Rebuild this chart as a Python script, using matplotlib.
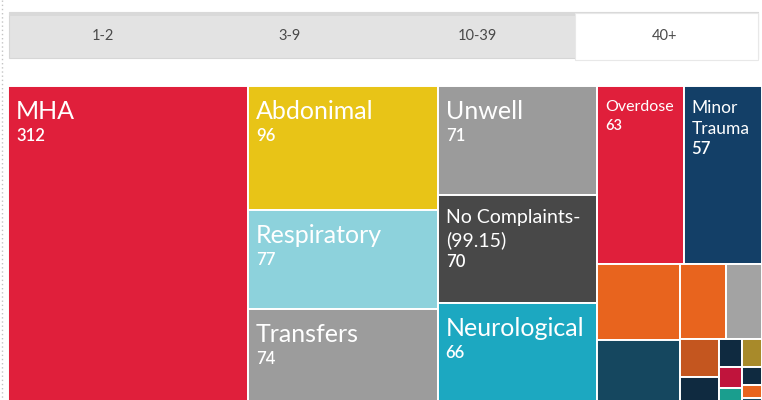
import matplotlib
matplotlib.use("Agg")
import matplotlib.pyplot as plt
from matplotlib.patches import Rectangle

plt.rcParams["font.family"] = ["Lato", "DejaVu Sans"]

# call volume by complaint, "40+" view
categories = ["MHA", "Abdonimal", "Respiratory", "Transfers", "Unwell",
              "No Complaints-\n(99.15)", "Neurological", "Overdose", "Minor\nTrauma"]
counts = [312, 96, 77, 74, 71, 70, 66, 63, 57]
# unlabelled tail of smaller complaints
minor_counts = [26, 22, 14, 11, 6.0, 4.4, 2.6, 2.3, 2.0, 1.6, 1.5, 1.0, 0.6]

tabs = ["1-2", "3-9", "10-39", "40+"]
selected_tab = 3

colors = ["#e01f3b", "#e8c417", "#8dd2dc", "#9c9c9c", "#9b9b9b",
          "#484848", "#1ca8c1", "#e01f3b", "#133f67"]
minor_colors = ["#e8641e", "#15475f", "#e8641e", "#a3a3a3", "#c4561f",
                "#0f2a40", "#0f2a40", "#a88a2a", "#c0143c", "#1a9e8e",
                "#0f2a40", "#e8641e", "#15475f"]
name_size = {"No Complaints-\n(99.15)": 14, "Overdose": 11.5, "Minor\nTrauma": 12.5}
value_size = {"Overdose": 10.5}

PHI = (1 + 5 ** 0.5) / 2


def squarify(values, x0, y0, x1, y1, ratio=PHI):
    """Squarified treemap tiling (same rule as d3.treemapSquarify)."""
    rects = []
    remaining = float(sum(values))
    i0, n = 0, len(values)
    while i0 < n:
        dx, dy = x1 - x0, y1 - y0
        row_sum = min_v = max_v = values[i0]
        i1 = i0 + 1
        alpha = max(dy / dx, dx / dy) / (remaining * ratio)
        beta = row_sum * row_sum * alpha
        best = max(max_v / beta, beta / min_v)
        while i1 < n:
            v = values[i1]
            s = row_sum + v
            lo, hi = min(min_v, v), max(max_v, v)
            beta = s * s * alpha
            r = max(hi / beta, beta / lo)
            if r > best:
                break
            best, row_sum, min_v, max_v = r, s, lo, hi
            i1 += 1
        row = values[i0:i1]
        if dx < dy:
            h = dy * row_sum / remaining
            x = x0
            for v in row:
                w = dx * v / row_sum
                rects.append((x, y0, w, h))
                x += w
            y0 += h
        else:
            w = dx * row_sum / remaining
            y = y0
            for v in row:
                h = dy * v / row_sum
                rects.append((x0, y, w, h))
                y += h
            x0 += w
        remaining -= row_sum
        i0 = i1
    return rects


fig = plt.figure(figsize=(7.62, 4.0), dpi=100)
ax = fig.add_axes([0, 0, 1, 1])
ax.set_xlim(0, 762)
ax.set_ylim(400, 0)
ax.axis("off")

# dotted page border on the left
ax.plot([2, 2], [0, 400], color="#c4c4c4", lw=1, ls=(0, (1, 2)))

# tab strip
bar_x0, bar_x1, bar_y0, bar_y1 = 9, 758, 12, 58
ax.add_patch(Rectangle((bar_x0, bar_y0), bar_x1 - bar_x0, bar_y1 - bar_y0,
                       facecolor="#e3e3e3", edgecolor="#d6d6d6", lw=0.8))
ax.add_patch(Rectangle((bar_x0, bar_y0), bar_x1 - bar_x0, 4,
                       facecolor="#d9d9d9", lw=0))
tab_w = (bar_x1 - bar_x0) / len(tabs)
for i, t in enumerate(tabs):
    tx = bar_x0 + i * tab_w
    if i == selected_tab:
        ax.add_patch(Rectangle((tx + 4, bar_y0 + 1), tab_w - 4, bar_y1 - bar_y0 + 1,
                               facecolor="white", edgecolor="#e8e8e8", lw=0.8))
    ax.text(tx + tab_w / 2, (bar_y0 + bar_y1) / 2 + 1, t, ha="center", va="center",
            fontsize=10.5, color="#4a4a4a")

# treemap
all_counts = counts + minor_counts
all_colors = colors + minor_colors
rects = squarify(all_counts, 8, 86, 762, 405)

for i, (x, y, w, h) in enumerate(rects):
    ax.add_patch(Rectangle((x, y), w, h, facecolor=all_colors[i],
                           edgecolor="white", lw=1.4))
    if i < len(categories):
        name = categories[i]
        lbl = ax.text(x + 8, y + 14, name, ha="left", va="top",
                      fontsize=name_size.get(name, 18), color="white",
                      linespacing=1.35)
        ax.annotate(str(counts[i]), xy=(0, 0), xycoords=lbl,
                    xytext=(0, -3.5), textcoords="offset points",
                    ha="left", va="top", fontsize=value_size.get(name, 12),
                    color="white", fontweight="semibold")

fig.savefig("out.png", dpi=100)
